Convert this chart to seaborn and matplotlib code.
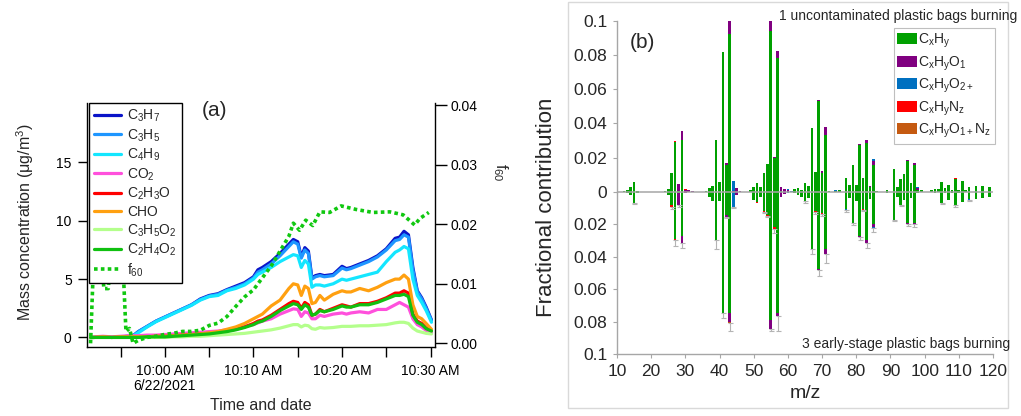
import numpy as np
import pandas as pd
import matplotlib
matplotlib.use("Agg")
import matplotlib.pyplot as plt
from matplotlib.lines import Line2D
from matplotlib.patches import Patch, Rectangle
import seaborn as sns

# ---------------- panel (a): ion time series ----------------
minutes = [-8.4, -8, -7, -6, -5, -4, -3.5, -3, -2, -1, 0, 1, 2, 3, 4, 5, 6, 7, 8, 9,
           10, 10.5, 11, 12, 13, 14, 14.5, 15, 15.4, 15.8, 16.2, 16.6, 17, 17.5, 18, 19,
           20, 20.5, 21, 22, 23, 24, 25, 26, 26.5, 27, 27.5, 28, 28.5, 29, 29.5, 30.1]

c3h7 = [0.0, 0.0, 0.05, 0.0, 0.05, 0.1, 0.2, 0.5, 0.95, 1.4, 1.75, 2.1, 2.45, 2.8, 3.3, 3.6, 3.75, 4.1, 4.4, 4.7,
        5.2, 5.8, 6.0, 6.5, 7.2, 8.0, 8.4, 8.2, 6.9, 7.7, 7.4, 5.1, 5.3, 5.4, 5.3, 5.4,
        6.1, 5.9, 6.0, 6.3, 6.6, 7.0, 7.6, 8.5, 8.6, 9.1, 8.8, 6.0, 4.0, 3.4, 2.6, 1.5]
c3h5 = [0.0, 0.0, 0.05, 0.0, 0.05, 0.1, 0.2, 0.5, 0.95, 1.4, 1.75, 2.1, 2.45, 2.8, 3.25, 3.55, 3.7, 4.05, 4.3, 4.6,
        5.1, 5.6, 5.8, 6.3, 7.0, 7.8, 8.2, 8.0, 6.8, 7.5, 7.2, 5.0, 5.2, 5.3, 5.2, 5.3,
        5.95, 5.8, 5.9, 6.2, 6.5, 6.9, 7.5, 8.3, 8.4, 8.8, 8.6, 5.8, 3.9, 3.3, 2.5, 1.45]
c4h9 = [0.0, 0.0, 0.05, 0.0, 0.05, 0.1, 0.15, 0.4, 0.9, 1.35, 1.7, 2.05, 2.4, 2.75, 3.2, 3.5, 3.6, 4.0, 4.2, 4.5,
        5.0, 5.4, 5.6, 6.0, 6.5, 6.9, 7.1, 7.0, 6.0, 6.6, 6.3, 4.3, 4.5, 4.5, 4.4, 4.6,
        5.0, 4.9, 5.0, 5.2, 5.4, 5.6, 6.5, 7.3, 7.5, 7.8, 7.6, 5.0, 3.6, 3.0, 2.3, 1.3]
co2 = [0.0, 0.05, 0.1, 0.05, 0.1, 0.15, 0.15, 0.15, 0.2, 0.2, 0.25, 0.3, 0.35, 0.4, 0.45, 0.5, 0.55, 0.65, 0.8, 0.95,
       1.1, 1.25, 1.4, 1.6, 2.0, 2.3, 2.45, 2.4, 1.8, 2.2, 2.1, 1.6, 1.6, 1.9, 1.8, 2.0,
       2.1, 2.0, 2.1, 2.2, 2.1, 2.4, 2.4, 2.8, 3.0, 2.8, 2.6, 1.6, 1.1, 0.9, 0.6, 0.4]
c2h3o = [0.0, 0.0, 0.05, 0.0, 0.05, 0.05, 0.05, 0.05, 0.05, 0.1, 0.1, 0.15, 0.2, 0.25, 0.3, 0.35, 0.45, 0.55, 0.7, 0.9,
         1.2, 1.4, 1.5, 1.9, 2.4, 2.9, 3.1, 3.0, 2.5, 3.0, 2.8, 1.9, 2.0, 2.4, 2.2, 2.5,
         2.8, 2.7, 2.6, 2.9, 2.9, 3.1, 3.4, 3.8, 3.8, 4.0, 3.8, 2.0, 1.4, 1.2, 0.8, 0.6]
cho = [0.0, 0.0, 0.05, 0.0, 0.05, 0.05, 0.05, 0.05, 0.05, 0.1, 0.1, 0.15, 0.2, 0.25, 0.3, 0.4, 0.5, 0.7, 0.9, 1.2,
       1.6, 1.8, 2.0, 2.7, 3.2, 4.2, 4.6, 4.5, 3.6, 4.4, 4.2, 2.9, 3.0, 3.6, 3.2, 3.7,
       4.0, 3.9, 3.9, 4.2, 4.0, 4.3, 4.7, 5.0, 5.0, 5.35, 5.0, 2.8, 1.8, 1.6, 1.2, 0.7]
c3h5o2 = [0.0, 0.0, 0.0, 0.0, 0.0, 0.0, 0.0, 0.0, 0.0, 0.0, 0.0, 0.05, 0.05, 0.1, 0.1, 0.15, 0.2, 0.25, 0.3, 0.35,
          0.45, 0.5, 0.55, 0.65, 0.8, 1.0, 1.1, 1.1, 0.9, 1.05, 1.0, 0.75, 0.7, 0.85, 0.8, 0.85,
          0.95, 0.95, 0.95, 1.0, 1.0, 1.05, 1.1, 1.25, 1.3, 1.3, 1.2, 0.8, 0.55, 0.45, 0.35, 0.3]
c2h4o2 = [0.0, 0.0, 0.0, 0.0, 0.0, 0.0, 0.0, 0.0, 0.05, 0.05, 0.05, 0.1, 0.15, 0.2, 0.25, 0.3, 0.4, 0.5, 0.65, 0.85,
          1.1, 1.3, 1.4, 1.8, 2.3, 2.7, 2.9, 2.8, 2.4, 2.8, 2.6, 1.9, 2.0, 2.3, 2.2, 2.4,
          2.7, 2.6, 2.6, 2.8, 2.8, 3.0, 3.3, 3.6, 3.6, 3.7, 3.5, 1.9, 1.3, 1.1, 0.75, 0.55]

f60_minutes = [-8.4, -8.0, -7.2, -6.9, -6.4, -6.0, -5.0, -4.7, -4.4, -4.0, -3.6, -3.0, -2.0, -1.0,
               0, 1, 2, 3, 4, 5, 6, 7, 8, 9, 10, 11, 12, 13, 14, 14.5, 15.2, 15.9, 16.7,
               17.5, 18.6, 19.9, 21.6, 23.5, 25.4, 26.9, 28.2, 28.8, 29.8]
f60 = [0.0, 0.016, 0.016, 0.0092, 0.0092, 0.016, 0.016, 0.012, 0.002, 0.0025, 0.0, 0.0005, 0.001, 0.0012,
       0.0015, 0.0017, 0.002, 0.002, 0.0022, 0.003, 0.0034, 0.0045, 0.0062, 0.0078, 0.009, 0.011, 0.013,
       0.0155, 0.018, 0.0202, 0.019, 0.0207, 0.0198, 0.0221, 0.022, 0.0231, 0.0225, 0.022, 0.0221,
       0.0216, 0.0199, 0.021, 0.022]

species_labels = ["C$_3$H$_7$", "C$_3$H$_5$", "C$_4$H$_9$", "CO$_2$", "C$_2$H$_3$O",
                  "CHO", "C$_3$H$_5$O$_2$", "C$_2$H$_4$O$_2$"]
species_values = [c3h7, c3h5, c4h9, co2, c2h3o, cho, c3h5o2, c2h4o2]
species_colors = ["#0a14c8", "#1e96ff", "#14e6ff", "#ff50dc", "#ff0000",
                  "#ffa010", "#b4ff8c", "#10c010"]
f60_color = "#10c810"

time_tick_minutes = [0, 10, 20, 30]
time_tick_labels = ["10:00 AM\n6/22/2021", "10:10 AM", "10:20 AM", "10:30 AM"]
time_minor_minutes = [-5, 5, 15, 25]

# ---------------- panel (b): fractional mass spectra ----------------
families = ["C$_\\mathregular{x}$H$_\\mathregular{y}$",
            "C$_\\mathregular{x}$H$_\\mathregular{y}$O$_\\mathregular{1}$",
            "C$_\\mathregular{x}$H$_\\mathregular{y}$O$_\\mathregular{2+}$",
            "C$_\\mathregular{x}$H$_\\mathregular{y}$N$_\\mathregular{z}$",
            "C$_\\mathregular{x}$H$_\\mathregular{y}$O$_\\mathregular{1+}$N$_\\mathregular{z}$"]
family_colors = ["#00a000", "#800080", "#0070c0", "#ff0000", "#c55a11"]

# 1 uncontaminated plastic bags burning (upper spectrum)
up_CxHy = {12: 0.0005, 13: 0.001, 14: 0.003, 15: 0.0058, 16: 0.0005,
           24: 0.0003, 25: 0.0015, 26: 0.0107, 27: 0.0293, 28: 0.0005, 29: 0.030,
           36: 0.0003, 37: 0.002, 38: 0.0035, 39: 0.0303, 40: 0.0058, 41: 0.0815, 42: 0.0158, 43: 0.0925,
           49: 0.001, 50: 0.003, 51: 0.005, 52: 0.0026, 53: 0.0107, 54: 0.016, 55: 0.094, 56: 0.0195,
           57: 0.078, 58: 0.0005,
           62: 0.0015, 63: 0.002, 64: 0.001, 65: 0.0053, 66: 0.0035, 67: 0.0372, 68: 0.0115, 69: 0.0532,
           70: 0.011, 71: 0.0333, 72: 0.0005,
           74: 0.0005, 75: 0.001, 77: 0.0078, 78: 0.0039, 79: 0.0155, 80: 0.004, 81: 0.0272, 82: 0.0078,
           83: 0.0285, 84: 0.003, 85: 0.0158, 86: 0.0005,
           89: 0.001, 91: 0.0135, 92: 0.003, 93: 0.0072, 94: 0.0105, 95: 0.018, 96: 0.005, 97: 0.0155,
           98: 0.001, 99: 0.001,
           102: 0.001, 103: 0.0015, 104: 0.0015, 105: 0.0058, 106: 0.002, 107: 0.004, 108: 0.001,
           109: 0.0075, 110: 0.001, 111: 0.006, 112: 0.0008, 113: 0.003, 115: 0.0032, 117: 0.0033,
           119: 0.003}
up_CxHyO1 = {28: 0.004, 29: 0.0055, 30: 0.001, 31: 0.0008, 32: 0.0003,
             42: 0.0012, 43: 0.0075, 44: 0.0005, 45: 0.002, 46: 0.0005,
             55: 0.006, 56: 0.001, 57: 0.0045, 58: 0.0025, 59: 0.0015, 60: 0.001,
             69: 0.0006, 70: 0.001, 71: 0.0043, 81: 0.0005, 83: 0.0015, 84: 0.0005, 85: 0.0021,
             95: 0.0005, 97: 0.0015, 98: 0.001}
up_CxHyO2 = {44: 0.0058, 60: 0.0005, 61: 0.0005, 74: 0.0005, 85: 0.0012, 98: 0.0005, 111: 0.0003}
up_CxHyNz = {27: 0.0005, 30: 0.0005, 41: 0.0003, 109: 0.0003}
up_CxHyONz = {30: 0.0003}

# 3 early-stage plastic bags burning (lower spectrum)
lo_CxHy = {13: 0.001, 14: 0.002, 15: 0.007, 16: 0.0005,
           25: 0.002, 26: 0.0085, 27: 0.029, 28: 0.0005, 29: 0.0273,
           37: 0.003, 38: 0.0055, 39: 0.0298, 40: 0.006, 41: 0.0745, 42: 0.0145, 43: 0.075,
           50: 0.005, 51: 0.0065, 52: 0.003, 53: 0.0118, 54: 0.0143, 55: 0.079, 56: 0.0215, 57: 0.075,
           62: 0.001, 63: 0.002, 64: 0.003, 65: 0.006, 66: 0.004, 67: 0.0355, 68: 0.012, 69: 0.0475,
           70: 0.013, 71: 0.0355,
           77: 0.0105, 78: 0.004, 79: 0.019, 80: 0.006, 81: 0.027, 82: 0.0105, 83: 0.030, 84: 0.0045,
           85: 0.020,
           89: 0.001, 91: 0.0172, 92: 0.003, 93: 0.008, 94: 0.005, 95: 0.019, 96: 0.004, 97: 0.019,
           98: 0.001,
           103: 0.001, 105: 0.007, 106: 0.001, 107: 0.005, 108: 0.001, 109: 0.0085, 110: 0.001,
           111: 0.0065, 113: 0.0045, 115: 0.0045, 117: 0.004, 119: 0.003}
lo_CxHyO1 = {28: 0.008, 29: 0.0045, 30: 0.001, 42: 0.0008, 43: 0.0055, 45: 0.002,
             55: 0.0055, 57: 0.0014, 58: 0.003, 59: 0.0015, 69: 0.0007, 71: 0.003,
             81: 0.0007, 83: 0.0015, 85: 0.002, 95: 0.0008, 97: 0.001}
lo_CxHyO2 = {44: 0.0092, 60: 0.0005, 77: 0.0008, 85: 0.0006, 113: 0.0006}
lo_CxHyNz = {26: 0.0008, 27: 0.001, 41: 0.0005, 51: 0.0005, 53: 0.0005, 54: 0.0005,
             56: 0.0014, 68: 0.0005, 70: 0.0005, 82: 0.0005}
lo_CxHyONz = {43: 0.0006}
lo_err = {15: 0.0008, 26: 0.0012, 27: 0.0035, 28: 0.001, 29: 0.003, 39: 0.0058, 41: 0.003,
          42: 0.001, 43: 0.0045, 44: 0.001, 53: 0.0008, 54: 0.0008, 55: 0.0015, 56: 0.0025,
          57: 0.0095, 65: 0.0008, 67: 0.003, 68: 0.001, 69: 0.0035, 70: 0.0015, 71: 0.0055,
          77: 0.001, 79: 0.0015, 81: 0.002, 82: 0.001, 83: 0.003, 85: 0.0025, 91: 0.001,
          93: 0.0008, 95: 0.0015, 97: 0.0018, 105: 0.0007, 109: 0.001, 113: 0.0006}

mz = np.arange(12, 121)

# ---------------- style ----------------
sns.set_theme(style="ticks")
plt.rcParams["font.family"] = ["Liberation Sans", "DejaVu Sans"]
plt.rcParams["mathtext.fontset"] = "custom"
plt.rcParams["mathtext.rm"] = "Liberation Sans"
plt.rcParams["mathtext.it"] = "Liberation Sans:italic"
plt.rcParams["mathtext.bf"] = "Liberation Sans:bold"

W, H = 1021, 416
fig = plt.figure(figsize=(W / 100, H / 100), dpi=100)


def rect(x0, y0, x1, y1):
    return [x0 / W, 1 - y1 / H, (x1 - x0) / W, (y1 - y0) / H]


# ======== panel (a) ========
base = pd.Timestamp("2021-06-22 10:00:00")
to_time = lambda m: base + pd.to_timedelta(np.asarray(m, dtype=float), unit="min")

long = pd.concat(
    [pd.DataFrame({"time": to_time(minutes), "conc": v, "ion": lab})
     for lab, v in zip(species_labels, species_values)],
    ignore_index=True)

ax_a = fig.add_axes(rect(87, 103, 435, 347))
sns.lineplot(data=long, x="time", y="conc", hue="ion", hue_order=species_labels,
             palette=dict(zip(species_labels, species_colors)), estimator=None,
             linewidth=2.3, legend=False, ax=ax_a)
ax_a.set_xlim(to_time([-8.8])[0], to_time([30.5])[0])
ax_a.set_ylim(-0.82, 20.1)
ax_a.set_yticks([0, 5, 10, 15])
ax_a.set_xticks(to_time(time_tick_minutes))
ax_a.set_xticklabels(time_tick_labels)
ax_a.set_xticks(to_time(time_minor_minutes), minor=True)
ax_a.set_xlabel("")
ax_a.set_ylabel("")
for s in ["top", "right"]:
    ax_a.spines[s].set_visible(False)
for s in ["left", "bottom"]:
    ax_a.spines[s].set_color("black")
    ax_a.spines[s].set_linewidth(1.0)
ax_a.tick_params(axis="y", direction="out", length=6.5, width=1, pad=4.5, labelsize=10,
                 color="black", labelcolor="black")
ax_a.tick_params(axis="x", which="both", direction="out", length=7.2, width=1, pad=5,
                 labelsize=10, color="black", labelcolor="black")
for lab in ax_a.get_xticklabels():
    lab.set_linespacing(1.1)

ax_f = ax_a.twinx()
sns.lineplot(x=to_time(f60_minutes), y=f60, color=f60_color, linewidth=2.6,
             linestyle=(0, (1, 0.9)), ax=ax_f, legend=False)
ax_f.set_ylim(-0.00062, 0.0404)
ax_f.set_yticks([0, 0.01, 0.02, 0.03, 0.04])
ax_f.set_yticklabels([f"{v:.2f}" for v in [0, 0.01, 0.02, 0.03, 0.04]])
for s in ["top", "left", "bottom"]:
    ax_f.spines[s].set_visible(False)
ax_f.spines["right"].set_color("black")
ax_f.spines["right"].set_linewidth(1.0)
ax_f.tick_params(axis="y", direction="out", length=8.6, width=1, pad=2.5, labelsize=10,
                 color="black", labelcolor="black")
ax_f.set_ylabel("")

handles_a = [Line2D([], [], color=c, lw=2.3) for c in species_colors]
handles_a.append(Line2D([], [], color=f60_color, lw=2.6, linestyle=(0, (1, 0.9))))
leg_a = ax_f.legend(handles_a, species_labels + ["f$_{60}$"], loc="upper left",
                    bbox_to_anchor=(0.006, 1.0), borderaxespad=0, fontsize=10,
                    frameon=True, fancybox=False, framealpha=1, edgecolor="black",
                    handlelength=1.95, handletextpad=0.45, labelspacing=0.22,
                    borderpad=0.35)
leg_a.get_frame().set_linewidth(1.0)
leg_a.set_zorder(20)

fig.text(214 / W, 1 - 110 / H, "(a)", fontsize=15, ha="center", va="center")
fig.text(25 / W, 1 - 222 / H, "Mass concentration (μg/m$^3$)", rotation=90,
         fontsize=11.5, ha="center", va="center")
fig.text(261 / W, 1 - 406 / H, "Time and date", fontsize=11.5, ha="center", va="center")
fig.text(500 / W, 1 - 172 / H, "f$_{60}$", rotation=270, fontsize=11.5,
         ha="center", va="center")

# ======== panel (b) ========
fig.add_artist(Rectangle((568 / W, 1 - 408 / H), 440 / W, 406 / H, transform=fig.transFigure,
                         fill=False, edgecolor="#d9d9d9", linewidth=1.0))

ax_up = fig.add_axes(rect(617, 20.7, 993, 191.7))
ax_lo = fig.add_axes(rect(617, 191.7, 993, 354), sharex=ax_up)


def dense(d):
    return np.array([d.get(int(m), 0.0) for m in mz])


up_sets = [dense(up_CxHy), dense(up_CxHyO1), dense(up_CxHyO2), dense(up_CxHyNz), dense(up_CxHyONz)]
lo_sets = [dense(lo_CxHy), dense(lo_CxHyO1), dense(lo_CxHyO2), dense(lo_CxHyNz), dense(lo_CxHyONz)]

for ax, sets in [(ax_up, up_sets), (ax_lo, lo_sets)]:
    bottom = np.zeros(len(mz))
    for vals, col in zip(sets, family_colors):
        ax.bar(mz, vals, bottom=bottom, width=0.78, color=col, linewidth=0, zorder=2)
        bottom = bottom + vals
    ax.axhline(0, color="#a6a6a6", linewidth=1.1, zorder=4)

lo_total = np.sum(lo_sets, axis=0)
err = dense(lo_err)
has_err = err > 0
ax_lo.errorbar(mz[has_err], lo_total[has_err], yerr=[np.zeros(has_err.sum()), err[has_err]],
               fmt="none", ecolor="#b4b4b4", elinewidth=0.8, capsize=1.8, capthick=0.8, zorder=3)

spine_gray = "#a6a6a6"
ax_up.set_xlim(10, 120)
ax_up.set_ylim(0, 0.1)
ax_lo.set_ylim(0.1, 0)
ax_up.set_yticks([0, 0.02, 0.04, 0.06, 0.08, 0.1])
ax_up.set_yticklabels(["0", "0.02", "0.04", "0.06", "0.08", "0.1"])
ax_lo.set_yticks([0.02, 0.04, 0.06, 0.08, 0.1])
ax_lo.set_yticklabels(["0.02", "0.04", "0.06", "0.08", "0.1"])
ax_lo.set_xticks(np.arange(10, 121, 10))
ax_lo.set_xticklabels([str(v) for v in range(10, 121, 10)])

for s in ["top", "right", "bottom"]:
    ax_up.spines[s].set_visible(False)
for s in ["top", "right"]:
    ax_lo.spines[s].set_visible(False)
for ax in (ax_up, ax_lo):
    ax.spines["left"].set_color(spine_gray)
    ax.spines["left"].set_linewidth(1.0)
    ax.tick_params(axis="y", direction="out", length=3, width=0.8, color=spine_gray,
                   pad=4, labelsize=12.5, labelcolor="#262626")
    ax.set_facecolor("none")
ax_lo.spines["bottom"].set_color(spine_gray)
ax_lo.spines["bottom"].set_linewidth(1.0)
ax_lo.tick_params(axis="x", direction="out", length=3, width=0.8, color=spine_gray,
                  pad=4, labelsize=12.5, labelcolor="#262626")
ax_up.tick_params(axis="x", bottom=False, labelbottom=False)

handles_b = [Patch(facecolor=c, edgecolor="none") for c in family_colors]
leg_b = ax_up.legend(handles_b, families, loc="upper right", bbox_to_anchor=(1.005, 0.955),
                     borderaxespad=0, fontsize=10, frameon=True, fancybox=False, framealpha=1,
                     edgecolor="#bfbfbf", handlelength=1.45, handleheight=0.85,
                     handletextpad=0.08, labelspacing=0.3, borderpad=0.25)
leg_b.get_frame().set_linewidth(0.8)
leg_b.set_zorder(10)

fig.text(642 / W, 1 - 42 / H, "(b)", fontsize=15, ha="center", va="center")
fig.text(1017 / W, 1 - 16 / H, "1 uncontaminated plastic bags burning", fontsize=10,
         ha="right", va="center", color="#262626")
fig.text(1010 / W, 1 - 344 / H, "3 early-stage plastic bags burning", fontsize=10,
         ha="right", va="center", color="#262626")
fig.text(547 / W, 1 - 207 / H, "Fractional contribution", rotation=90, fontsize=16,
         ha="center", va="center", color="#262626")
fig.text(805 / W, 1 - 393 / H, "m/z", fontsize=14, ha="center", va="center", color="#262626")

fig.savefig("out.png", dpi=100)
